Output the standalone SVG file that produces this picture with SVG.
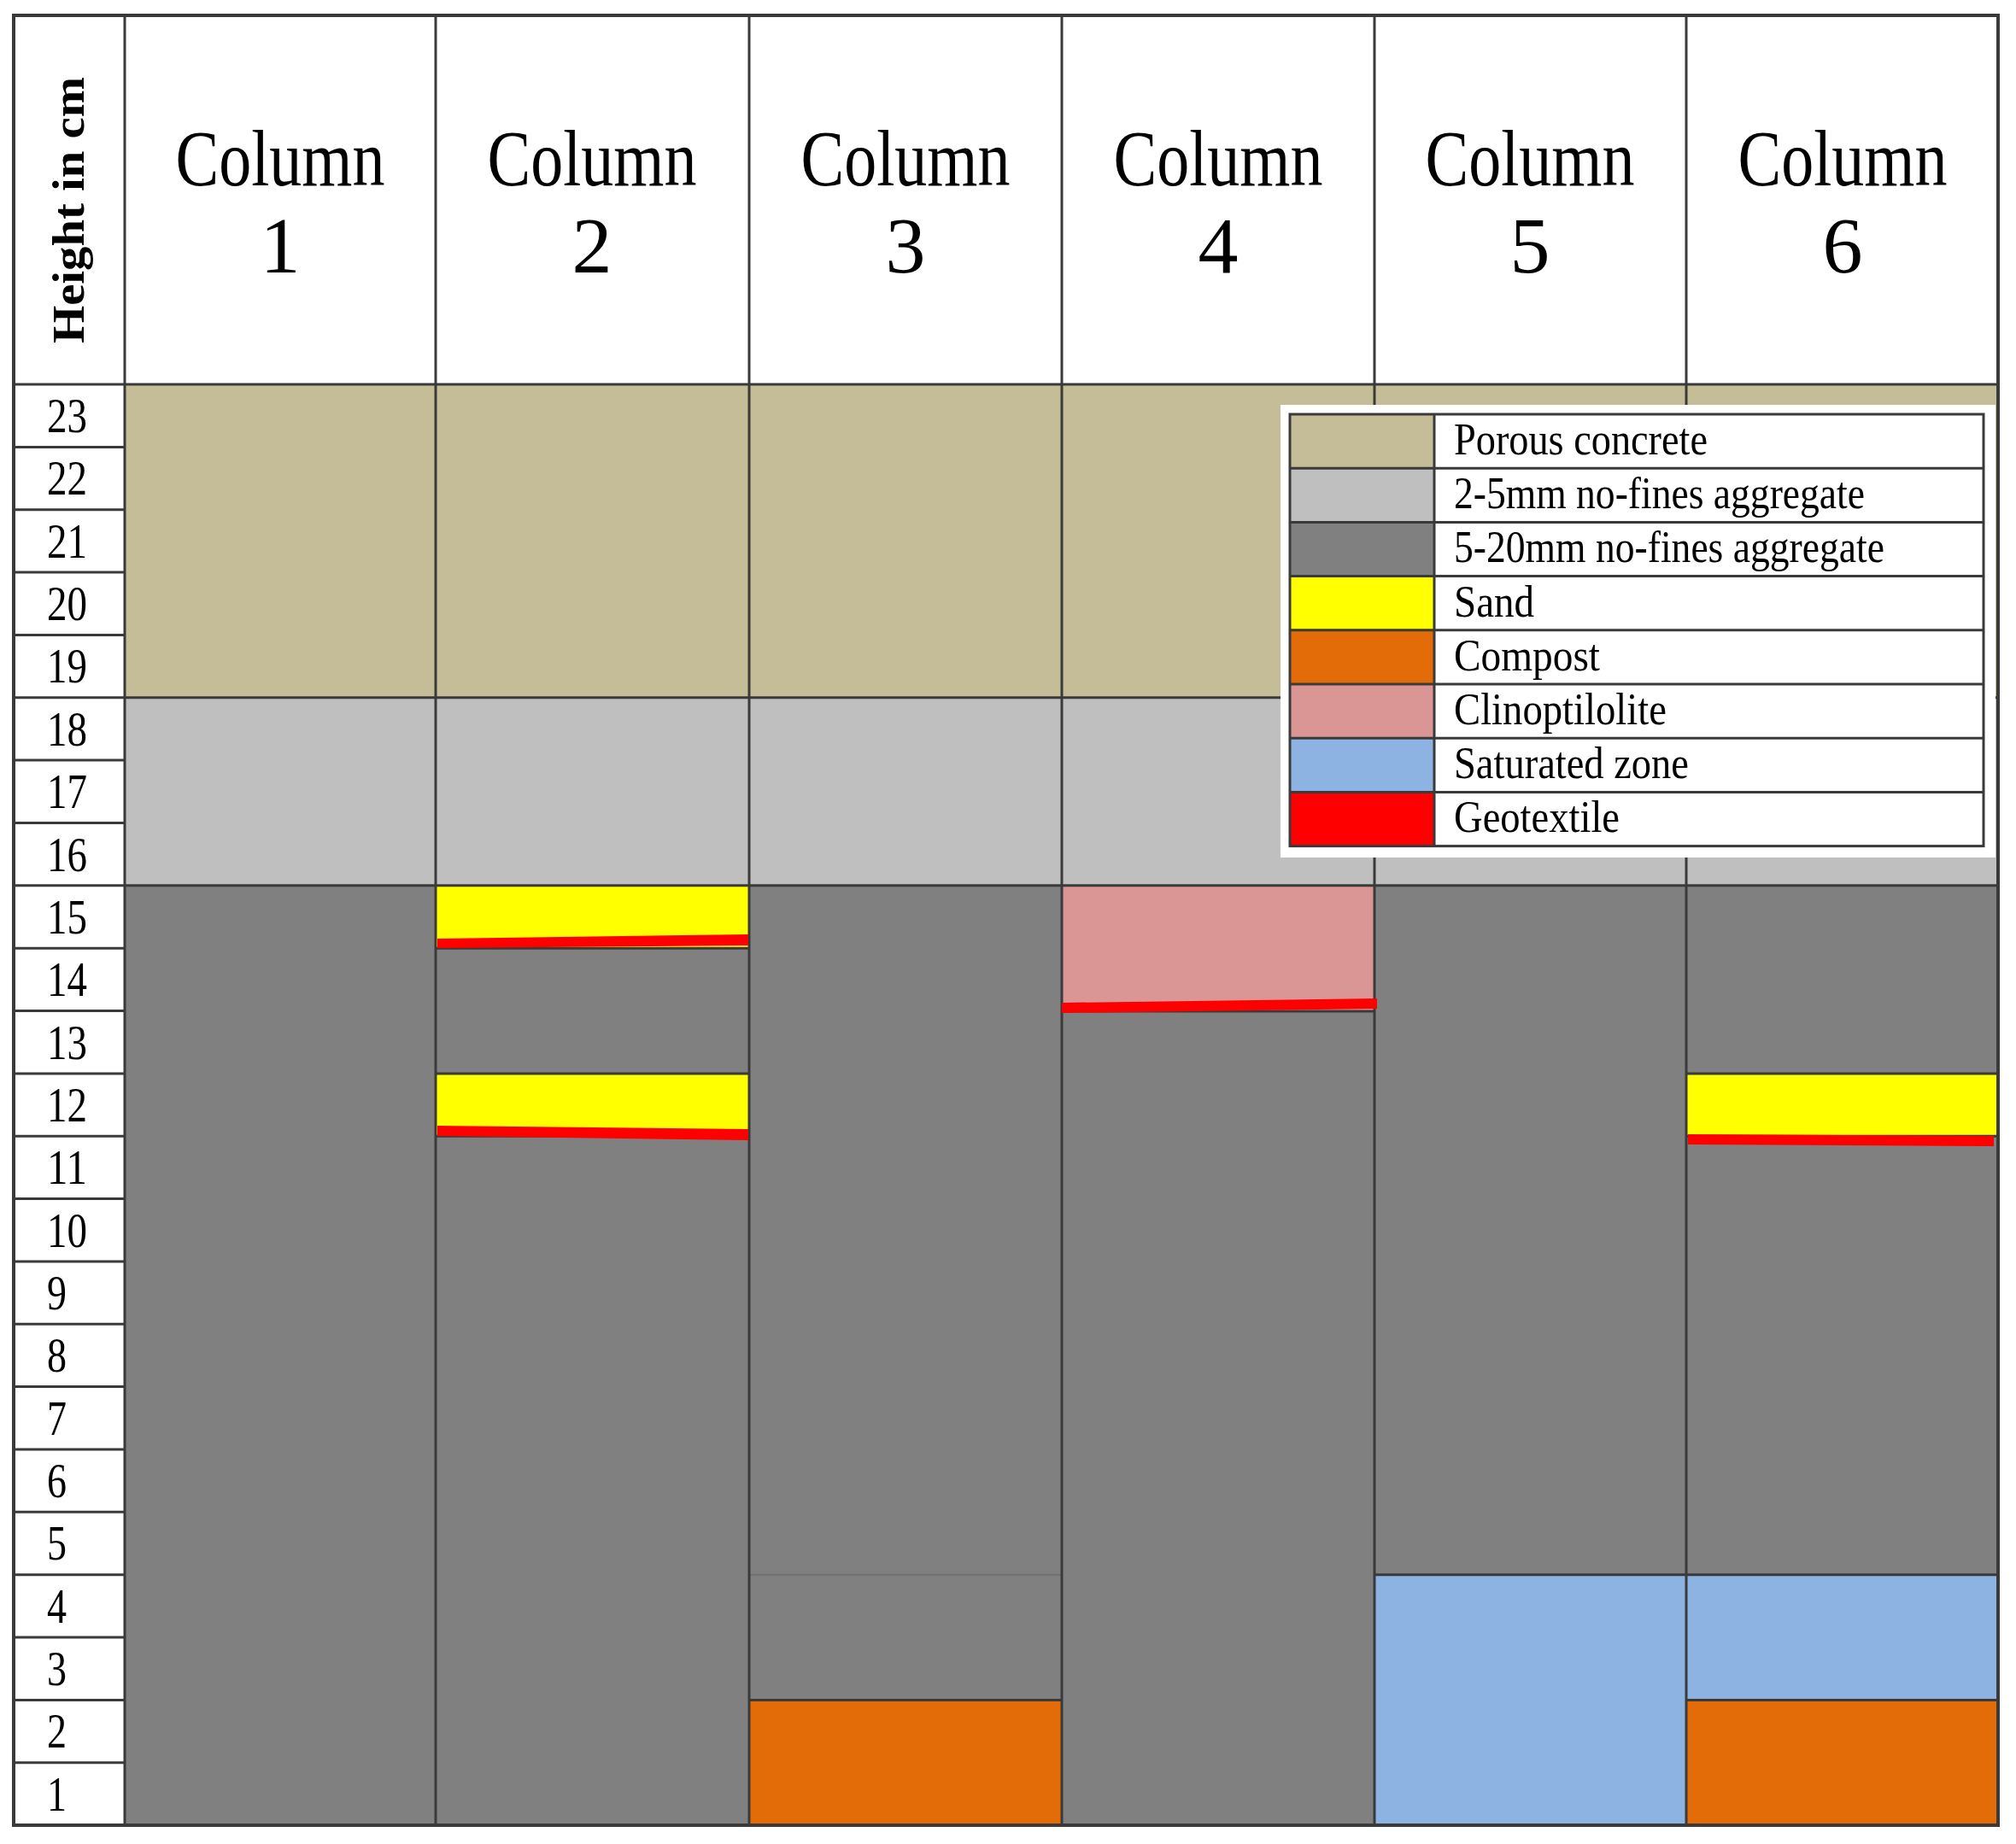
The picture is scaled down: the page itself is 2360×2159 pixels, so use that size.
<svg xmlns="http://www.w3.org/2000/svg" width="2360" height="2159" viewBox="0 0 2360 2159">
<style>
.ln{stroke:#3a3a3a;stroke-width:3;fill:none}
.hd{font-family:"Liberation Serif","Times New Roman",serif;font-size:94px;fill:#000;text-anchor:middle}
.rn{font-family:"Liberation Serif","Times New Roman",serif;font-size:57px;fill:#000}
.lg{font-family:"Liberation Serif","Times New Roman",serif;font-size:52px;fill:#000}
.tan{fill:#C4BD97}.lgr{fill:#BFBFBF}.gr{fill:#808080}.ye{fill:#FFFF00}.rd{fill:#FF0000}.or{fill:#E36C09}.pk{fill:#D99694}.bl{fill:#8DB3E2}
</style>
<rect width="2360" height="2159" fill="#fff"/>
<g id="header">
<rect x="16" y="18" width="2323" height="432" fill="#fff"/>
<text transform="translate(98,246) rotate(-90)" font-family="Liberation Serif, Times New Roman, serif" font-size="53" font-weight="bold" text-anchor="middle" textLength="312" lengthAdjust="spacingAndGlyphs">Height in cm</text>
<text class="hd" x="328" y="217" textLength="245" lengthAdjust="spacingAndGlyphs">Column</text><text class="hd" x="328" y="319">1</text>
<text class="hd" x="693" y="217" textLength="245" lengthAdjust="spacingAndGlyphs">Column</text><text class="hd" x="693" y="319">2</text>
<text class="hd" x="1060" y="217" textLength="245" lengthAdjust="spacingAndGlyphs">Column</text><text class="hd" x="1060" y="319">3</text>
<text class="hd" x="1426" y="217" textLength="245" lengthAdjust="spacingAndGlyphs">Column</text><text class="hd" x="1426" y="319">4</text>
<text class="hd" x="1791" y="217" textLength="245" lengthAdjust="spacingAndGlyphs">Column</text><text class="hd" x="1791" y="319">5</text>
<text class="hd" x="2157" y="217" textLength="245" lengthAdjust="spacingAndGlyphs">Column</text><text class="hd" x="2157" y="319">6</text>
</g>
<g id="layers-common">
<rect class="tan" x="146" y="450" width="2193" height="366.8"/>
<rect class="lgr" x="146" y="816.8" width="2193" height="220"/>
<rect class="gr" x="146" y="1036.8" width="2193" height="1100.2"/>
</g>
<g id="column2">
<rect class="ye" x="510" y="1036.8" width="367" height="73.4"/>
<rect class="ye" x="510" y="1256.9" width="367" height="73.3"/>
</g>
<g id="column3">
<rect class="or" x="877" y="1990.4" width="366" height="146.6"/>
</g>
<g id="column4">
<rect class="pk" x="1243" y="1036.8" width="366" height="146.7"/>
</g>
<g id="column5">
<rect class="bl" x="1609" y="1843.7" width="365" height="293.3"/>
</g>
<g id="column6">
<rect class="ye" x="1974" y="1256.9" width="365" height="73.3"/>
<rect class="bl" x="1974" y="1843.7" width="365" height="146.7"/>
<rect class="or" x="1974" y="1990.4" width="365" height="146.6"/>
</g>
<g id="layer-lines" class="ln">
<line x1="16" y1="450" x2="2339" y2="450"/>
<line x1="146" y1="816.8" x2="2339" y2="816.8"/>
<line x1="146" y1="1036.8" x2="2339" y2="1036.8"/>
<line x1="510" y1="1110.2" x2="877" y2="1110.2"/>
<line x1="510" y1="1256.9" x2="877" y2="1256.9"/>
<line x1="510" y1="1330.2" x2="877" y2="1330.2"/>
<line x1="1243" y1="1184" x2="1609" y2="1184"/>
<line x1="1974" y1="1256.9" x2="2339" y2="1256.9"/>
<line x1="1974" y1="1330.2" x2="2339" y2="1330.2"/>
<line x1="877" y1="1843.7" x2="1243" y2="1843.7" stroke="#707070" stroke-width="2"/>
<line x1="877" y1="1990.4" x2="1243" y2="1990.4"/>
<line x1="1609" y1="1843.7" x2="2339" y2="1843.7"/>
<line x1="1974" y1="1990.4" x2="2339" y2="1990.4"/>
<line x1="146" y1="18" x2="146" y2="2137"/>
<line x1="510" y1="18" x2="510" y2="2137"/>
<line x1="877" y1="18" x2="877" y2="2137"/>
<line x1="1243" y1="18" x2="1243" y2="2137"/>
<line x1="1609" y1="18" x2="1609" y2="2137"/>
<line x1="1974" y1="18" x2="1974" y2="2137"/>
<rect x="16" y="18" width="2323" height="2119" stroke-width="4"/>
</g>
<g id="geotextile" class="rd">
<polygon points="512,1099 876,1094 876,1107 512,1110"/>
<polygon points="512,1318 876,1322 876,1335 512,1330"/>
<polygon points="1243,1174 1612,1169 1612,1181 1243,1186"/>
<polygon points="1976,1328 2334,1330 2334,1342 1976,1340"/>
</g>
<g id="height-scale">
<g class="ln" stroke-width="4">
<line x1="16" y1="523.4" x2="146" y2="523.4"/><line x1="16" y1="596.7" x2="146" y2="596.7"/>
<line x1="16" y1="670.1" x2="146" y2="670.1"/><line x1="16" y1="743.4" x2="146" y2="743.4"/>
<line x1="16" y1="816.8" x2="146" y2="816.8"/><line x1="16" y1="890.1" x2="146" y2="890.1"/>
<line x1="16" y1="963.5" x2="146" y2="963.5"/><line x1="16" y1="1036.8" x2="146" y2="1036.8"/>
<line x1="16" y1="1110.2" x2="146" y2="1110.2"/><line x1="16" y1="1183.5" x2="146" y2="1183.5"/>
<line x1="16" y1="1256.9" x2="146" y2="1256.9"/><line x1="16" y1="1330.2" x2="146" y2="1330.2"/>
<line x1="16" y1="1403.6" x2="146" y2="1403.6"/><line x1="16" y1="1476.9" x2="146" y2="1476.9"/>
<line x1="16" y1="1550.3" x2="146" y2="1550.3"/><line x1="16" y1="1623.6" x2="146" y2="1623.6"/>
<line x1="16" y1="1697" x2="146" y2="1697"/><line x1="16" y1="1770.3" x2="146" y2="1770.3"/>
<line x1="16" y1="1843.7" x2="146" y2="1843.7"/><line x1="16" y1="1917" x2="146" y2="1917"/>
<line x1="16" y1="1990.4" x2="146" y2="1990.4"/><line x1="16" y1="2063.7" x2="146" y2="2063.7"/>
</g>
<text class="rn" x="55" y="506" textLength="47" lengthAdjust="spacingAndGlyphs">23</text>
<text class="rn" x="55" y="579.4" textLength="47" lengthAdjust="spacingAndGlyphs">22</text>
<text class="rn" x="55" y="652.7" textLength="47" lengthAdjust="spacingAndGlyphs">21</text>
<text class="rn" x="55" y="726.1" textLength="47" lengthAdjust="spacingAndGlyphs">20</text>
<text class="rn" x="55" y="799.4" textLength="47" lengthAdjust="spacingAndGlyphs">19</text>
<text class="rn" x="55" y="872.8" textLength="47" lengthAdjust="spacingAndGlyphs">18</text>
<text class="rn" x="55" y="946.1" textLength="47" lengthAdjust="spacingAndGlyphs">17</text>
<text class="rn" x="55" y="1019.5" textLength="47" lengthAdjust="spacingAndGlyphs">16</text>
<text class="rn" x="55" y="1092.8" textLength="47" lengthAdjust="spacingAndGlyphs">15</text>
<text class="rn" x="55" y="1166.2" textLength="47" lengthAdjust="spacingAndGlyphs">14</text>
<text class="rn" x="55" y="1239.5" textLength="47" lengthAdjust="spacingAndGlyphs">13</text>
<text class="rn" x="55" y="1312.9" textLength="47" lengthAdjust="spacingAndGlyphs">12</text>
<text class="rn" x="55" y="1386.2" textLength="47" lengthAdjust="spacingAndGlyphs">11</text>
<text class="rn" x="55" y="1459.6" textLength="47" lengthAdjust="spacingAndGlyphs">10</text>
<text class="rn" x="55" y="1532.9" textLength="23" lengthAdjust="spacingAndGlyphs">9</text>
<text class="rn" x="55" y="1606.3" textLength="23" lengthAdjust="spacingAndGlyphs">8</text>
<text class="rn" x="55" y="1679.6" textLength="23" lengthAdjust="spacingAndGlyphs">7</text>
<text class="rn" x="55" y="1753" textLength="23" lengthAdjust="spacingAndGlyphs">6</text>
<text class="rn" x="55" y="1826.3" textLength="23" lengthAdjust="spacingAndGlyphs">5</text>
<text class="rn" x="55" y="1899.7" textLength="23" lengthAdjust="spacingAndGlyphs">4</text>
<text class="rn" x="55" y="1973" textLength="23" lengthAdjust="spacingAndGlyphs">3</text>
<text class="rn" x="55" y="2046.4" textLength="23" lengthAdjust="spacingAndGlyphs">2</text>
<text class="rn" x="55" y="2119.7" textLength="23" lengthAdjust="spacingAndGlyphs">1</text>
</g>
<g id="legend">
<rect x="1499" y="474" width="837" height="530" fill="#fff"/>
<rect class="tan" x="1510" y="485" width="169" height="63.2"/>
<rect class="lgr" x="1510" y="548.2" width="169" height="63.2"/>
<rect class="gr" x="1510" y="611.4" width="169" height="63.2"/>
<rect class="ye" x="1510" y="674.6" width="169" height="63.2"/>
<rect class="or" x="1510" y="737.8" width="169" height="63.2"/>
<rect class="pk" x="1510" y="801" width="169" height="63.2"/>
<rect class="bl" x="1510" y="864.2" width="169" height="63.2"/>
<rect class="rd" x="1510" y="927.4" width="169" height="63.2"/>
<g class="ln">
<rect x="1510" y="485" width="812" height="505.6"/>
<line x1="1679" y1="485" x2="1679" y2="990.6"/>
<line x1="1510" y1="548.2" x2="2322" y2="548.2"/>
<line x1="1510" y1="611.4" x2="2322" y2="611.4"/>
<line x1="1510" y1="674.6" x2="2322" y2="674.6"/>
<line x1="1510" y1="737.8" x2="2322" y2="737.8"/>
<line x1="1510" y1="801" x2="2322" y2="801"/>
<line x1="1510" y1="864.2" x2="2322" y2="864.2"/>
<line x1="1510" y1="927.4" x2="2322" y2="927.4"/>
</g>
<text class="lg" x="1702" y="532" textLength="297" lengthAdjust="spacingAndGlyphs">Porous concrete</text>
<text class="lg" x="1702" y="595.2" textLength="481" lengthAdjust="spacingAndGlyphs">2-5mm no-fines aggregate</text>
<text class="lg" x="1702" y="658.4" textLength="504" lengthAdjust="spacingAndGlyphs">5-20mm no-fines aggregate</text>
<text class="lg" x="1702" y="721.6" textLength="94" lengthAdjust="spacingAndGlyphs">Sand</text>
<text class="lg" x="1702" y="784.8" textLength="171" lengthAdjust="spacingAndGlyphs">Compost</text>
<text class="lg" x="1702" y="848" textLength="249" lengthAdjust="spacingAndGlyphs">Clinoptilolite</text>
<text class="lg" x="1702" y="911.2" textLength="275" lengthAdjust="spacingAndGlyphs">Saturated zone</text>
<text class="lg" x="1702" y="974.4" textLength="194" lengthAdjust="spacingAndGlyphs">Geotextile</text>
</g>
</svg>
